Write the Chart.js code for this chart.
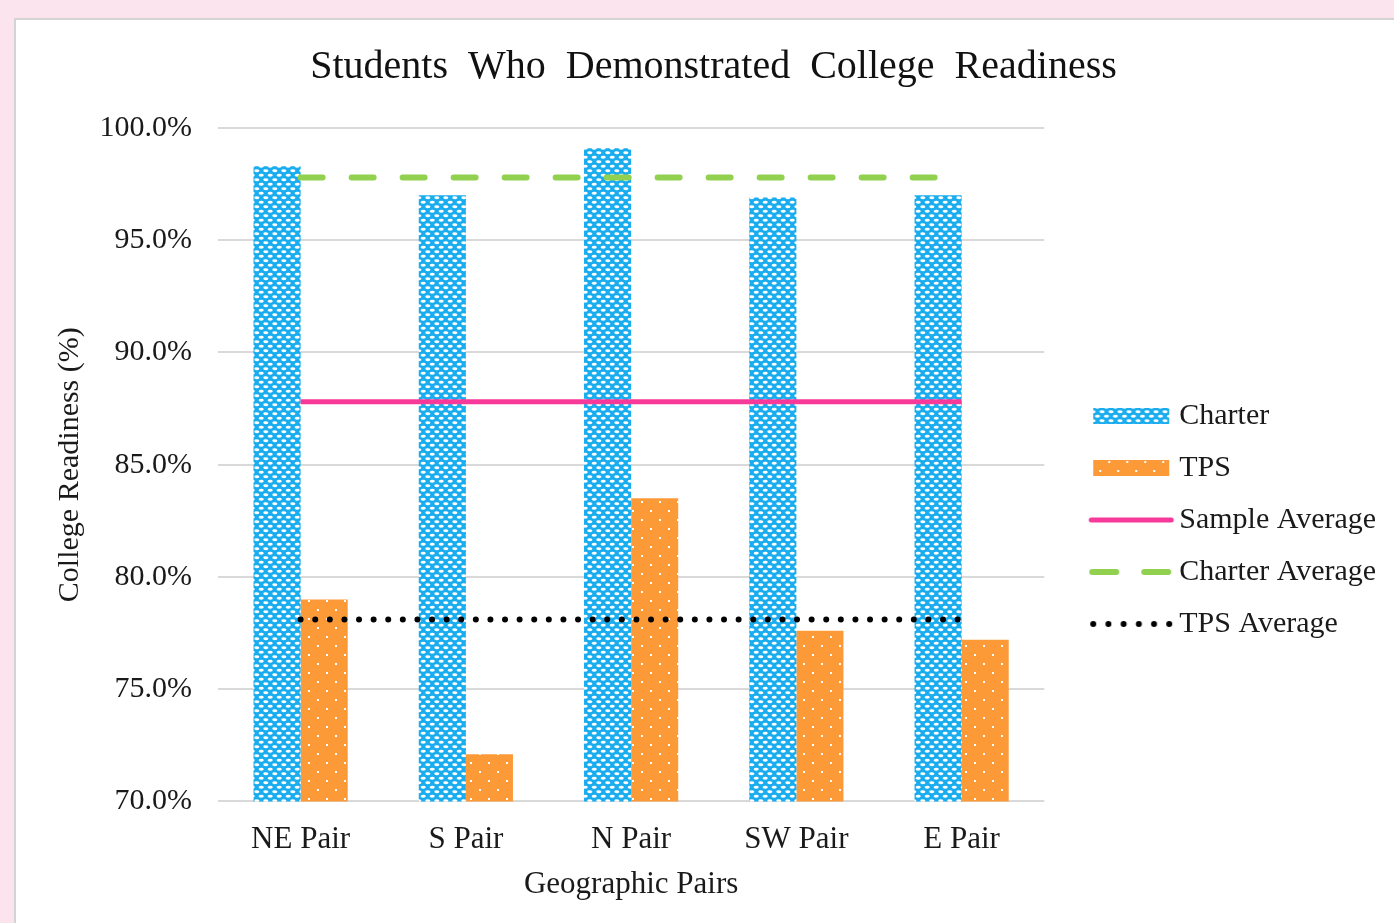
<!DOCTYPE html>
<html>
<head>
<meta charset="utf-8">
<script src="https://cdn.jsdelivr.net/npm/chart.js@4.4.0/dist/chart.umd.min.js"></script>
<style>
  html, body { margin: 0; padding: 0; background: #fbe4ee; overflow: hidden; }
  #panel { position: absolute; left: 14px; top: 18px; width: 1420px; height: 920px;
           background: #fff; border-left: 2px solid #d4d4d4; border-top: 2px solid #d4d4d4; }
  #chart { display: block; }
</style>
</head>
<body>
<div id="panel"><canvas id="chart" width="1402" height="905"></canvas></div>
<script>
var categories = ["NE Pair", "S Pair", "N Pair", "SW Pair", "E Pair"];
var charterValues = [98.3, 97.0, 99.1, 96.9, 97.0];
var tpsValues = [79.0, 72.1, 83.5, 77.6, 77.2];
var sampleAverage = [87.8, 87.8, 87.8, 87.8, 87.8];
var charterAverage = [97.8, 97.8, 97.8, 97.8, 97.8];
var tpsAverage = [78.1, 78.1, 78.1, 78.1, 78.1];
var yTicks = [70, 75, 80, 85, 90, 95, 100];

var SERIF = "'Liberation Serif', 'Times New Roman', serif";
var BLUE = "#19acee", ORANGE = "#fd9a38", PINK = "#f7399a", GREEN = "#92d050";

function makePattern(kind) {
    var c = document.createElement("canvas");
    var g = c.getContext("2d");
    if (kind === "charter") {
        c.width = 9; c.height = 9;
        g.fillStyle = BLUE; g.fillRect(0, 0, 9, 9);
        g.fillStyle = "#fff";
        g.beginPath(); g.ellipse(2.25, 2.25, 2.5, 1.4, 0, 0, Math.PI * 2); g.fill();
        g.beginPath(); g.ellipse(6.75, 6.75, 2.5, 1.4, 0, 0, Math.PI * 2); g.fill();
        g.beginPath(); g.ellipse(-2.25, 6.75, 2.5, 1.4, 0, 0, Math.PI * 2); g.fill();
        g.beginPath(); g.ellipse(11.25, 2.25, 2.5, 1.4, 0, 0, Math.PI * 2); g.fill();
    } else {
        c.width = 18; c.height = 18;
        g.fillStyle = ORANGE; g.fillRect(0, 0, 18, 18);
        g.fillStyle = "#fff";
        g.fillRect(4, 4, 2, 2);
        g.fillRect(13, 13, 2, 2);
    }
    return g.createPattern(c, "repeat");
}

var charterFill = makePattern("charter");
var tpsFill = makePattern("tps");

// legend symbols (image wider than the box, symbol sits right of centre)
var BOX_W = 98, SYM_W = 130, SYM_H = 22, SYM_C = 81;
function legendSymbol(kind) {
    var c = document.createElement("canvas");
    c.width = SYM_W; c.height = SYM_H;
    var g = c.getContext("2d");
    var cy = SYM_H / 2;
    if (kind === "charter" || kind === "tps") {
        g.fillStyle = kind === "charter" ? charterFill : tpsFill;
        g.fillRect(SYM_C - 38, cy - 8, 76, 16);
    } else if (kind === "sample") {
        g.strokeStyle = PINK; g.lineWidth = 5; g.lineCap = "round";
        g.beginPath(); g.moveTo(SYM_C - 40, cy); g.lineTo(SYM_C + 40, cy); g.stroke();
    } else if (kind === "charterAvg") {
        g.strokeStyle = GREEN; g.lineWidth = 6; g.lineCap = "round";
        g.beginPath(); g.moveTo(SYM_C - 39, cy); g.lineTo(SYM_C - 15, cy); g.stroke();
        g.beginPath(); g.moveTo(SYM_C + 13, cy); g.lineTo(SYM_C + 37, cy); g.stroke();
    } else {
        g.fillStyle = "#000";
        for (var i = 0; i < 6; i++) {
            g.beginPath(); g.arc(SYM_C - 38 + i * 15.2, cy, 3, 0, Math.PI * 2); g.fill();
        }
    }
    return c;
}
var symbols = [legendSymbol("charter"), legendSymbol("tps"), legendSymbol("sample"),
               legendSymbol("charterAvg"), legendSymbol("tpsAvg")];

var ctx = document.getElementById("chart").getContext("2d");
var chart = new Chart(ctx, {
    type: "bar",
    data: {
        labels: categories,
        datasets: [
            { label: "Charter", data: charterValues, backgroundColor: charterFill, order: 10 },
            { label: "TPS", data: tpsValues, backgroundColor: tpsFill, order: 11 },
            { type: "line", label: "Sample Average", data: sampleAverage, borderColor: PINK,
              borderWidth: 5, pointRadius: 0, fill: false, order: 3 },
            { type: "line", label: "Charter Average", data: charterAverage, borderColor: GREEN,
              borderWidth: 6, borderDash: [22, 29], borderCapStyle: "round", pointRadius: 0, fill: false, order: 2 },
            { type: "line", label: "TPS Average", data: tpsAverage, borderColor: "#000",
              borderWidth: 6, borderDash: [0, 14.6], borderCapStyle: "round", pointRadius: 0, fill: false, order: 1 }
        ]
    },
    options: {
        responsive: false,
        animation: false,
        devicePixelRatio: 1,
        layout: { padding: { left: 36, right: 43, top: 0, bottom: 22 } },
        datasets: { bar: { barPercentage: 1, categoryPercentage: 0.57 } },
        plugins: {
            tooltip: { enabled: false },
            title: {
                display: true,
                text: "Students  Who  Demonstrated  College  Readiness",
                color: "#111",
                font: { family: SERIF, size: 40, weight: "normal" },
                padding: { top: 23, bottom: 37 }
            },
            legend: {
                position: "right",
                align: "center",
                title: { display: true, text: " ", font: { size: 10 }, padding: { top: 0, bottom: 105 } },
                labels: {
                    usePointStyle: true,
                    pointStyleWidth: BOX_W,
                    color: "#1a1a1a",
                    padding: 22,
                    font: { family: SERIF, size: 30 },
                    generateLabels: function (chart) {
                        // trailing no-break spaces keep the legend box wide enough for the text
                        return chart.data.datasets.map(function (ds, i) {
                            return { text: ds.label + "\u00a0\u00a0", pointStyle: symbols[i], datasetIndex: i,
                                     fillStyle: "#fff", strokeStyle: "#fff", lineWidth: 0,
                                     fontColor: "#1a1a1a", hidden: false };
                        });
                    }
                }
            }
        },
        scales: {
            x: {
                grid: { display: false, drawTicks: false },
                border: { display: false },
                afterFit: function (axis) { axis.height = 101.6; },
                ticks: { color: "#1a1a1a", padding: 20, font: { family: SERIF, size: 31 } },
                title: { display: true, text: "Geographic Pairs", color: "#1a1a1a",
                         font: { family: SERIF, size: 31 }, padding: { top: 0, bottom: 0 } }
            },
            y: {
                min: 70, max: 100,
                afterBuildTicks: function (axis) {
                    axis.ticks = yTicks.map(function (v) { return { value: v }; });
                },
                afterFit: function (axis) { axis.width = 166; },
                grid: { color: "#d9d9d9", lineWidth: 2, drawTicks: false },
                border: { display: false },
                ticks: { color: "#1a1a1a", padding: 26, font: { family: SERIF, size: 30 },
                         callback: function (v) { return v.toFixed(1) + "%"; } },
                title: { display: true, text: "College Readiness (%)", color: "#1a1a1a",
                         font: { family: SERIF, size: 30 }, padding: { top: 0, bottom: 7 } }
            }
        }
    }
});
</script>
</body>
</html>
